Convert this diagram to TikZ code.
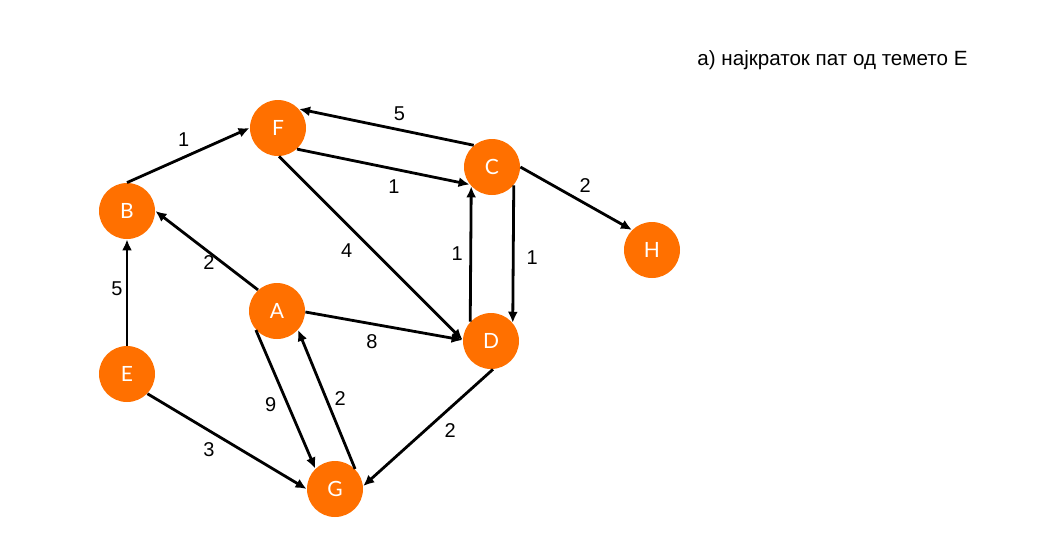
\documentclass[tikz,border=0pt]{standalone}
\usepackage{fontspec}
\setmainfont{Liberation Sans}
\newfontfamily\latofont{Lato}
\usetikzlibrary{positioning, arrows.meta}
\definecolor{vertexorange}{RGB}{255,112,0}

\begin{document}
\begin{tikzpicture}[x=0.5pt, y=-0.5pt,
		 vertex/.style={circle, fill=vertexorange, text=white, minimum size=28pt, inner sep=0pt, font=\latofont\fontsize{10.5}{12}\selectfont},
		 arc/.style={line width=1.4pt, -{Latex[length=5.5pt, width=5pt]}},
		 weight/.style={midway, font=\fontsize{10}{12}\selectfont} ]
		\useasboundingbox (0,0) rectangle (1056,548);
		\node[anchor=west, inner sep=0pt, font=\fontsize{10.3}{12}\selectfont] (title) at (697,60) {а) најкраток пат од темето Е};
		\node[vertex] (F) at (278,128) {F};
		\node[vertex] (C) at (492,167) {C};
		\node[vertex] (B) at (127,211) {B};
		\node[vertex] (H) at (652,250) {H};
		\node[vertex] (A) at (277,311) {A};
		\node[vertex] (D) at (491,341) {D};
		\node[vertex] (E) at (127,374) {E};
		\node[vertex] (G) at (335,489) {G};
		\draw[arc] (B.90) -- (F.180) node[weight, xshift=-2.25pt, yshift=7.75pt] {1};
		\draw[arc] (C.130) -- (F.42) node[weight, xshift=6.5pt, yshift=6.75pt] {5};
		\draw[arc] (F.-48) -- (C.218) node[weight, xshift=5.35pt, yshift=-9.7pt] {1};
		\draw[arc] (C.0) -- (H.135) node[weight, xshift=4.5pt, yshift=6.3pt] {2};
		\draw[arc] (F.-88) -- (D.178) node[weight, xshift=-12pt, yshift=-1pt] {4};
		\draw[arc] (A.-2) -- (D.178) node[weight, xshift=-6pt, yshift=-8pt] {8};
		\draw[arc] (D.137) -- (C.223) node[weight, xshift=-6.75pt] {1};
		\draw[arc] (C.-40) -- (D.40) node[weight, xshift=9.5pt, yshift=-2pt] {1};
		\draw[arc] (A.132) -- (B.0) node[weight, xshift=1.15pt, yshift=-6.2pt] {2};
		\draw[arc] (E.90) -- (B.270) node[weight, xshift=-5pt, yshift=1.75pt] {5};
		\draw[arc] (E.-44) -- (G.180) node[weight, xshift=-9pt, yshift=-4pt] {3};
		\draw[arc] (A.222) -- (G.134) node[weight, xshift=-7.5pt, yshift=-2.85pt] {9};
		\draw[arc] (G.45) -- (A.-42) node[weight, xshift=6.85pt, yshift=0.25pt] {2};
		\draw[arc] (D.-86) -- (G.6) node[weight, xshift=11pt, yshift=-1.25pt] {2};
	\end{tikzpicture}
\end{document}
